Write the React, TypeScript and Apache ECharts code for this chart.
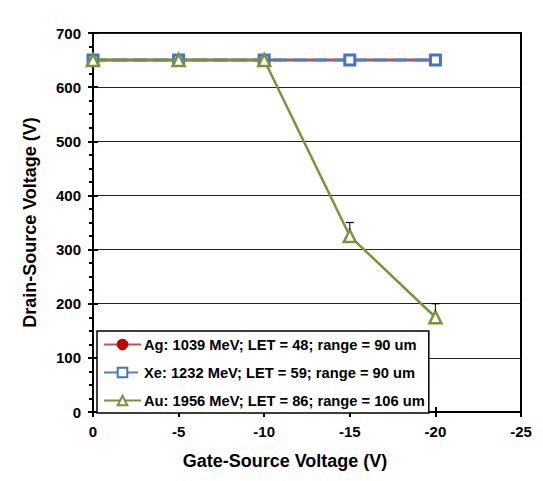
import React, { useEffect, useRef } from "react";
import * as echarts from "echarts";

const gateVoltages = [0, -5, -10, -15, -20];
const agValues = [650, 650, 650, 650, 650];
const xeValues = [650, 650, 650, 650, 650];
const auValues = [650, 650, 650, 325, 175];
const auErrPlus = [0, 0, 0, 25, 25];
const seriesNames = [
  "Ag: 1039 MeV; LET = 48; range = 90 um",
  "Xe: 1232 MeV; LET = 59; range = 90 um",
  "Au: 1956 MeV; LET = 86; range = 106 um",
];

const FONT = "Liberation Sans, Arial, sans-serif";

export default function App() {
  const ref = useRef<HTMLDivElement>(null);
  useEffect(() => {
    if (!ref.current) return;
    const chart = echarts.init(ref.current, undefined, { renderer: "svg" });
    const pairs = (ys: number[]) => gateVoltages.map((x, i) => [x, ys[i]]);
    const xBase = {
      type: "value",
      min: -25,
      max: 0,
      interval: 5,
      inverse: true,
      gridIndex: 0,
    };
    const yBase = {
      type: "value",
      min: 0,
      max: 700,
      interval: 100,
      gridIndex: 0,
    };
    chart.setOption({
      animation: false,
      backgroundColor: "#fff",
      textStyle: { fontFamily: FONT },
      graphic: [
        {
          type: "polyline",
          shape: {
            points: [
              [7, 481],
              [7, 7],
              [543, 7],
            ],
          },
          style: { stroke: "#333", lineWidth: 1.5, fill: null },
          z: 50,
        },
      ],
      grid: {
        left: 93,
        right: 22,
        top: 33,
        bottom: 69,
        show: true,
        borderColor: "#000",
        borderWidth: 2,
      },
      legend: {
        data: seriesNames,
        orient: "vertical",
        left: 97,
        top: 331,
        backgroundColor: "#fff",
        borderColor: "#000",
        borderWidth: 1.5,
        borderRadius: 0,
        padding: [6, 4, 5, 6],
        itemWidth: 37,
        itemHeight: 12,
        itemGap: 13,
        textStyle: {
          fontFamily: FONT,
          fontWeight: "bold",
          fontSize: 14.7,
          color: "#000",
          padding: [0, 0, 0, -2],
        },
        z: 10,
      },
      xAxis: [
        {
          ...xBase,
          name: "Gate-Source Voltage (V)",
          nameLocation: "middle",
          nameGap: 40,
          nameTextStyle: {
            fontFamily: FONT,
            fontWeight: "bold",
            fontSize: 18,
            color: "#000",
            padding: [0, 44, 0, 0],
          },
          axisLine: { show: true, onZero: false, lineStyle: { color: "#000", width: 2 } },
          axisTick: { show: true, inside: false, length: 5, lineStyle: { color: "#000", width: 2 } },
          axisLabel: {
            margin: 12,
            fontFamily: FONT,
            fontWeight: "bold",
            fontSize: 15,
            color: "#000",
          },
          splitLine: { show: false },
        },
        {
          ...xBase,
          position: "bottom",
          axisLine: { show: false },
          axisTick: { show: true, inside: true, length: 5, lineStyle: { color: "#000", width: 2 } },
          axisLabel: { show: false },
          splitLine: { show: false },
        },
      ],
      yAxis: [
        {
          ...yBase,
          name: "Drain-Source Voltage (V)",
          nameLocation: "middle",
          nameGap: 54,
          nameRotate: 90,
          nameTextStyle: {
            fontFamily: FONT,
            fontWeight: "bold",
            fontSize: 18,
            color: "#000",
          },
          axisLine: { show: true, onZero: false, lineStyle: { color: "#000", width: 2 } },
          axisTick: { show: true, inside: false, length: 5, lineStyle: { color: "#000", width: 2 } },
          minorTick: { show: true, splitNumber: 4, length: 4, lineStyle: { color: "#000", width: 2 } },
          axisLabel: {
            margin: 12,
            fontFamily: FONT,
            fontWeight: "bold",
            fontSize: 15,
            color: "#000",
          },
          splitLine: { show: true, lineStyle: { color: "#222", width: 1 } },
        },
        {
          ...yBase,
          position: "left",
          axisLine: { show: false },
          axisTick: { show: true, inside: true, length: 5, lineStyle: { color: "#000", width: 2 } },
          axisLabel: { show: false },
          splitLine: { show: false },
        },
      ],
      series: [
        {
          name: seriesNames[0],
          type: "line",
          xAxisIndex: 0,
          yAxisIndex: 0,
          data: pairs(agValues),
          symbol: "circle",
          symbolSize: 10,
          itemStyle: { color: "#C00000", borderColor: "#C00000", borderWidth: 1 },
          lineStyle: { color: "#C0504D", width: 3 },
          z: 2,
        },
        {
          name: seriesNames[1],
          type: "line",
          xAxisIndex: 0,
          yAxisIndex: 0,
          data: pairs(xeValues),
          symbol: "rect",
          symbolSize: 10,
          itemStyle: { color: "#fff", borderColor: "#4472C4", borderWidth: 3 },
          lineStyle: { color: "#4F81BD", width: 3, type: [14, 6] },
          z: 3,
        },
        {
          name: seriesNames[2],
          type: "line",
          xAxisIndex: 0,
          yAxisIndex: 0,
          data: pairs(auValues),
          symbol: "triangle",
          symbolSize: 12,
          itemStyle: { color: "#fff", borderColor: "#77933C", borderWidth: 2.5 },
          lineStyle: { color: "#77933C", width: 2.5 },
          z: 4,
        },
        {
          name: "Au error",
          type: "custom",
          xAxisIndex: 0,
          yAxisIndex: 0,
          data: gateVoltages.map((x, i) => [x, auValues[i], auErrPlus[i]]),
          z: 5,
          renderItem: (_params: any, api: any) => {
            const x = api.value(0);
            const y = api.value(1);
            const e = api.value(2);
            if (!e) return null;
            const p0 = api.coord([x, y]);
            const p1 = api.coord([x, y + e]);
            return {
              type: "group",
              children: [
                {
                  type: "line",
                  shape: { x1: p0[0], y1: p0[1] - 6, x2: p1[0], y2: p1[1] },
                  style: { stroke: "#000", lineWidth: 1 },
                },
                {
                  type: "line",
                  shape: { x1: p1[0] - 4, y1: p1[1], x2: p1[0] + 4, y2: p1[1] },
                  style: { stroke: "#000", lineWidth: 1.2 },
                },
              ],
            };
          },
        },
      ],
    });
    return () => chart.dispose();
  }, []);
  return <div ref={ref} style={{ width: 543, height: 481, margin: -8 }} />;
}
